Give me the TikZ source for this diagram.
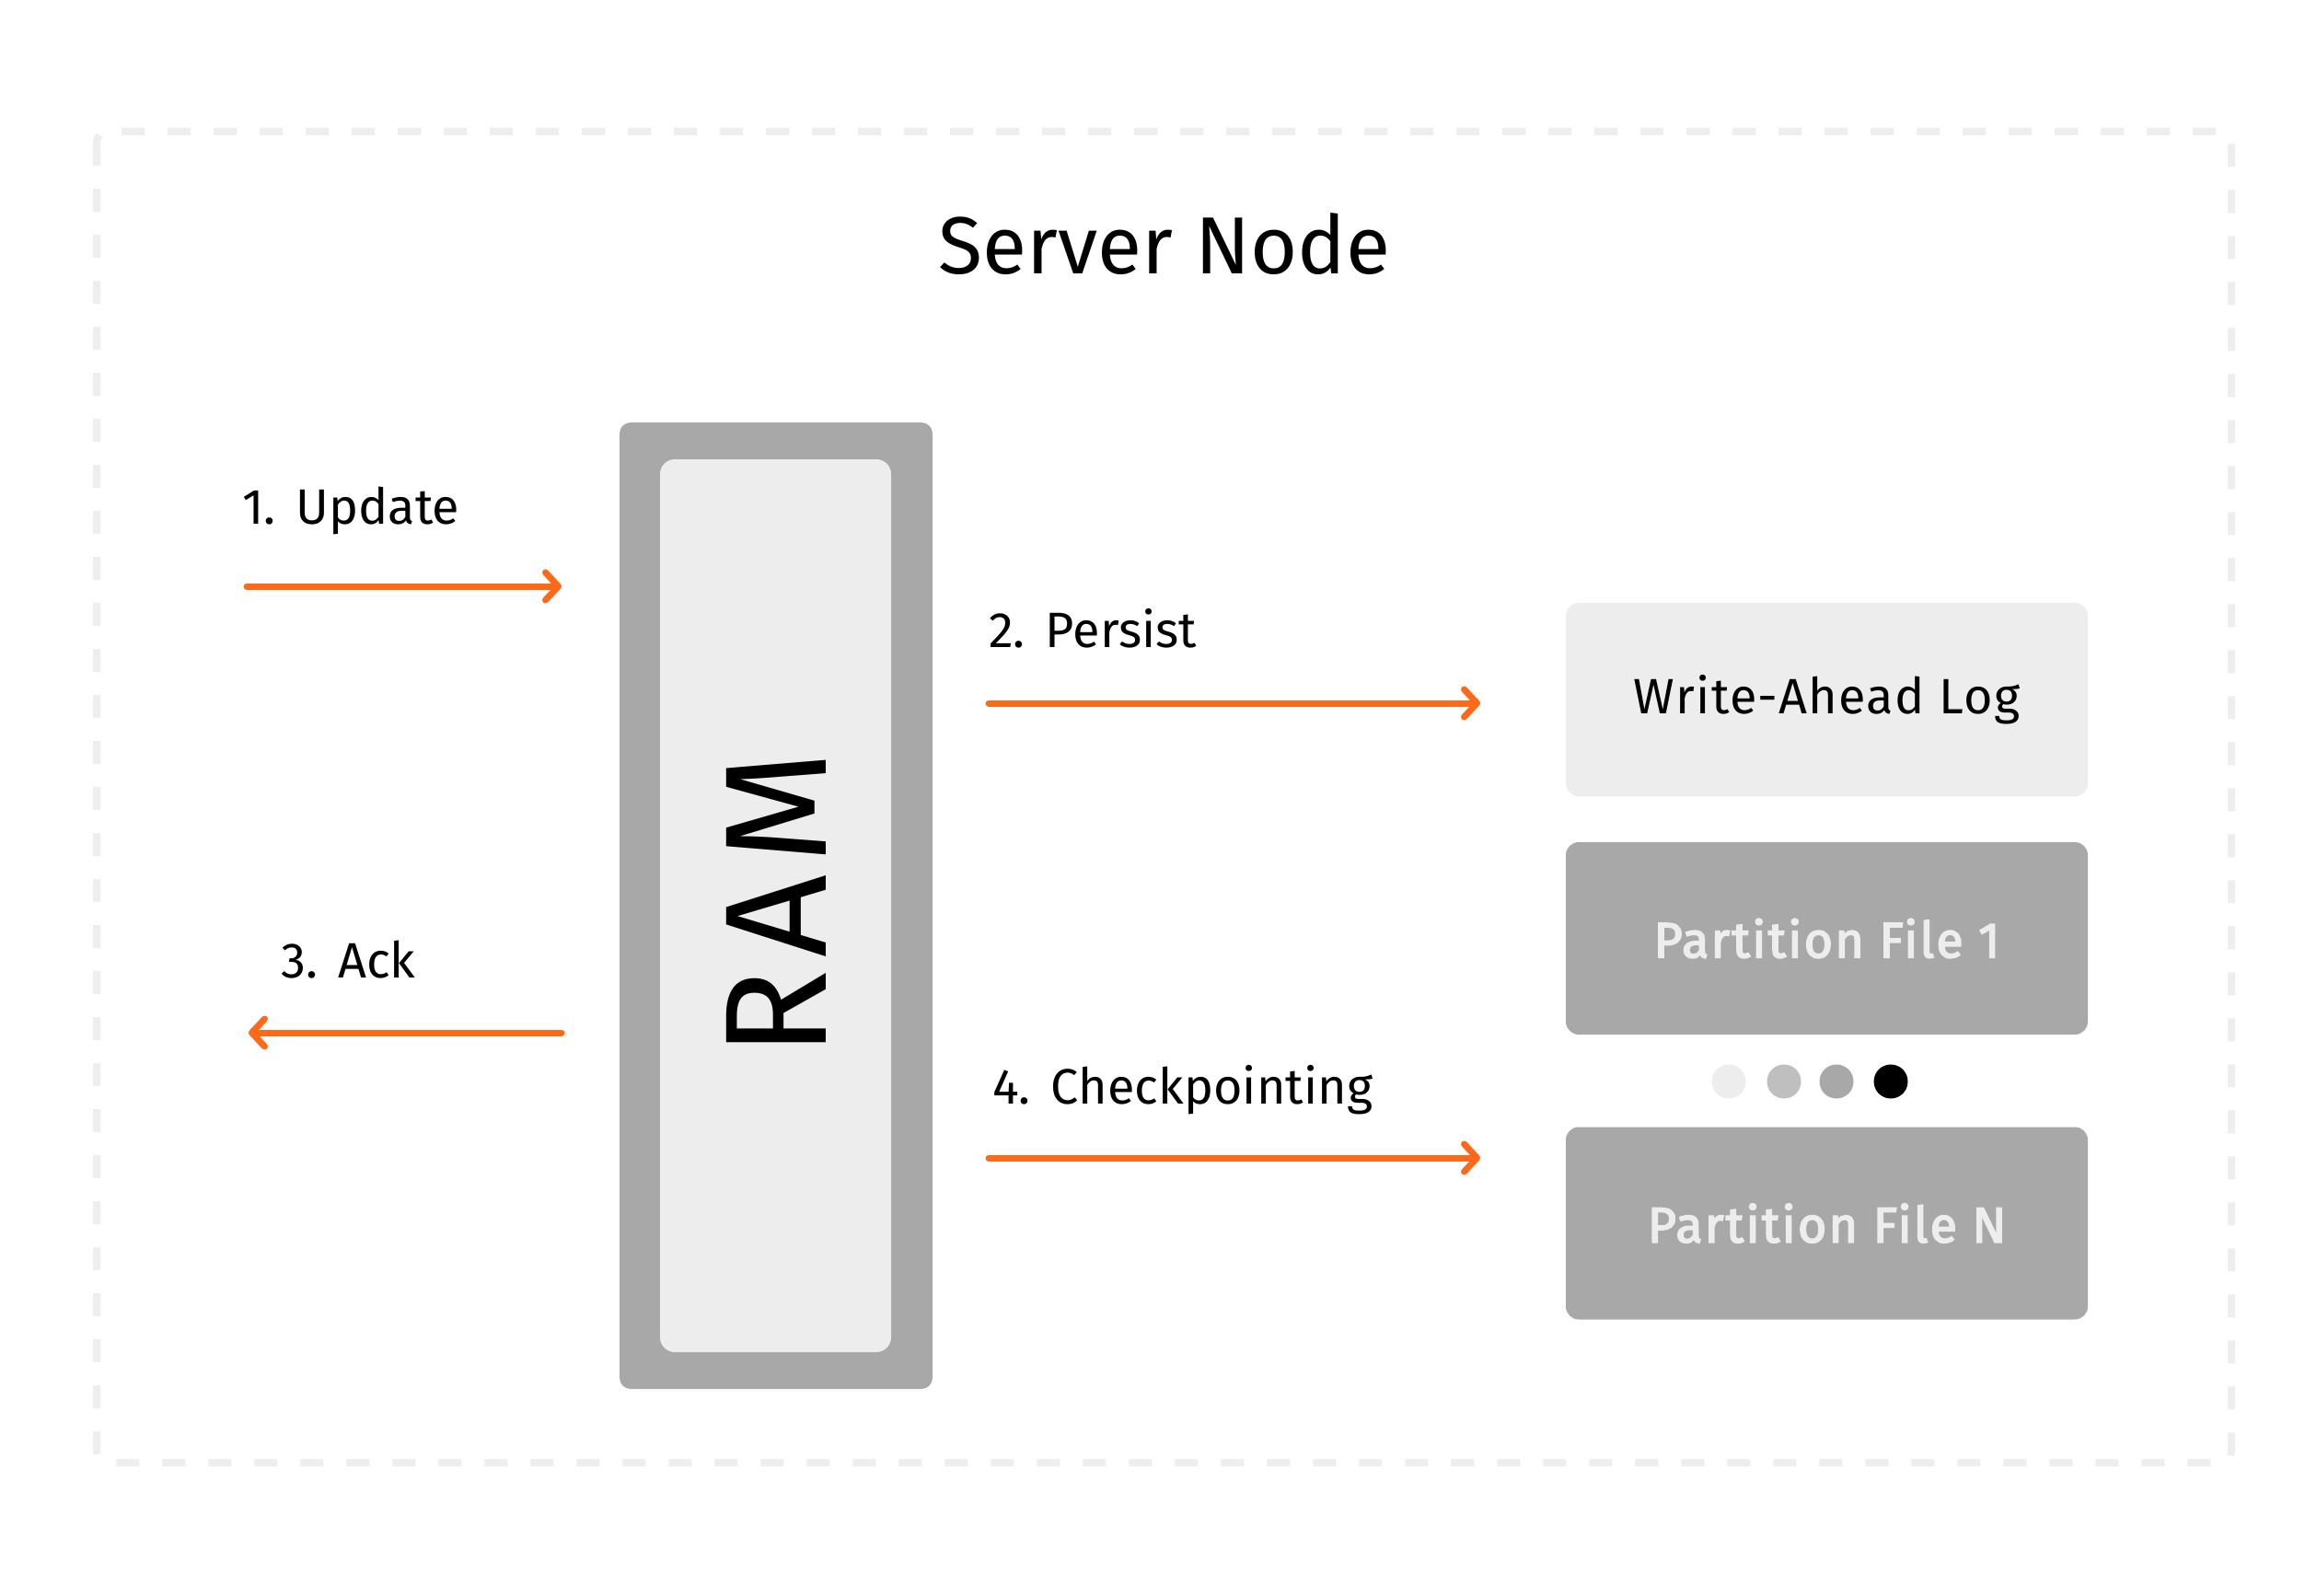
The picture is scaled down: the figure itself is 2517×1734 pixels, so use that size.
\documentclass[tikz,border=0pt]{standalone}
\usepackage{fontspec}
\setmainfont{Fira Sans}
\usetikzlibrary{arrows.meta}
\definecolor{orangeA}{HTML}{FF6A1A}
\definecolor{greyD}{HTML}{A8A8A8}
\definecolor{greyL}{HTML}{EDEDED}
\definecolor{greyM}{HTML}{BFBFBF}
\definecolor{borderC}{HTML}{EEEEEE}
\tikzset{
  flowarrow/.style={draw=orangeA, line width=7pt, line cap=round,
    -{Straight Barb[length=14pt,width=30pt,line cap=round,line join=round]}},
  lbl/.style={anchor=west, inner sep=0pt, font=\fontsize{54}{60}\selectfont},
  lightbox/.style={fill=greyL, rounded corners=14pt, minimum width=567pt, minimum height=210pt, inner sep=0pt,
    font=\fontsize{54}{60}\selectfont\addfontfeature{LetterSpace=2.5}},
  darkbox/.style={fill=greyD, rounded corners=14pt, minimum width=567pt, minimum height=209pt, inner sep=0pt,
    text=greyL, font=\fontsize{54}{60}\selectfont\addfontfeature{LetterSpace=4,FakeBold=3}},
  dotc/.style={circle, minimum size=37pt, inner sep=0pt},
}
\begin{document}
\begin{tikzpicture}[x=1pt,y=-1pt]
\useasboundingbox[fill=white] (0,0) rectangle (2517,1734);
% border
\draw[borderC, line width=8pt, dash pattern=on 25pt off 25pt, rounded corners=12pt] (105,143) rectangle (2424,1589);
\node[inner sep=0pt, font=\fontsize{88}{96}\selectfont] (title) at (1265,265) {Server Node};
% RAM
\node[fill=greyD, rounded corners=12pt, minimum width=340pt, minimum height=1050pt, inner sep=0pt] (ramouter) at (843,984) {};
\node[fill=greyL, rounded corners=16pt, minimum width=251pt, minimum height=970pt, inner sep=0pt] (raminner) at (842.5,984) {};
\node[rotate=90, inner sep=0pt, font=\fontsize{157}{160}\selectfont\addfontfeature{LetterSpace=8}] (ram) at (843,982) {RAM};
% right boxes
\node[lightbox] (wal) at (1984.5,760) {Write-Ahead Log};
\node[darkbox] (pf1) at (1984.5,1019.5) {Partition File 1};
\node[darkbox] (pfn) at (1984.5,1329) {Partition File N};
% dots
\node[dotc, fill=greyL] (d1) at (1878,1175) {};
\node[dotc, fill=greyM] (d2) at (1938,1175) {};
\node[dotc, fill=greyD] (d3) at (1995,1175) {};
\node[dotc, fill=black] (d4) at (2054,1175) {};
% arrows
\coordinate (u1) at (268,637); \coordinate (u2) at (610,637);
\coordinate (p1) at (1074,764); \coordinate (p2) at (1608,764);
\coordinate (a1) at (610,1122); \coordinate (a2) at (270,1122);
\coordinate (c1) at (1074,1258); \coordinate (c2) at (1608,1258);
\draw[flowarrow] (u1) -- (u2);
\draw[flowarrow] (p1) -- (p2);
\draw[flowarrow] (a1) -- (a2);
\draw[flowarrow] (c1) -- (c2);
% labels
\node[lbl] (lu) at (263,555) {1.\hspace{22pt}Update};
\node[lbl] (lp) at (1074,683) {2.\hspace{22pt}Persist};
\node[lbl] (la) at (305,1043) {3.\hspace{22pt}Ack};
\node[lbl] (lc) at (1078,1184) {4.\hspace{22pt}Checkpointing};
\end{tikzpicture}
\end{document}
